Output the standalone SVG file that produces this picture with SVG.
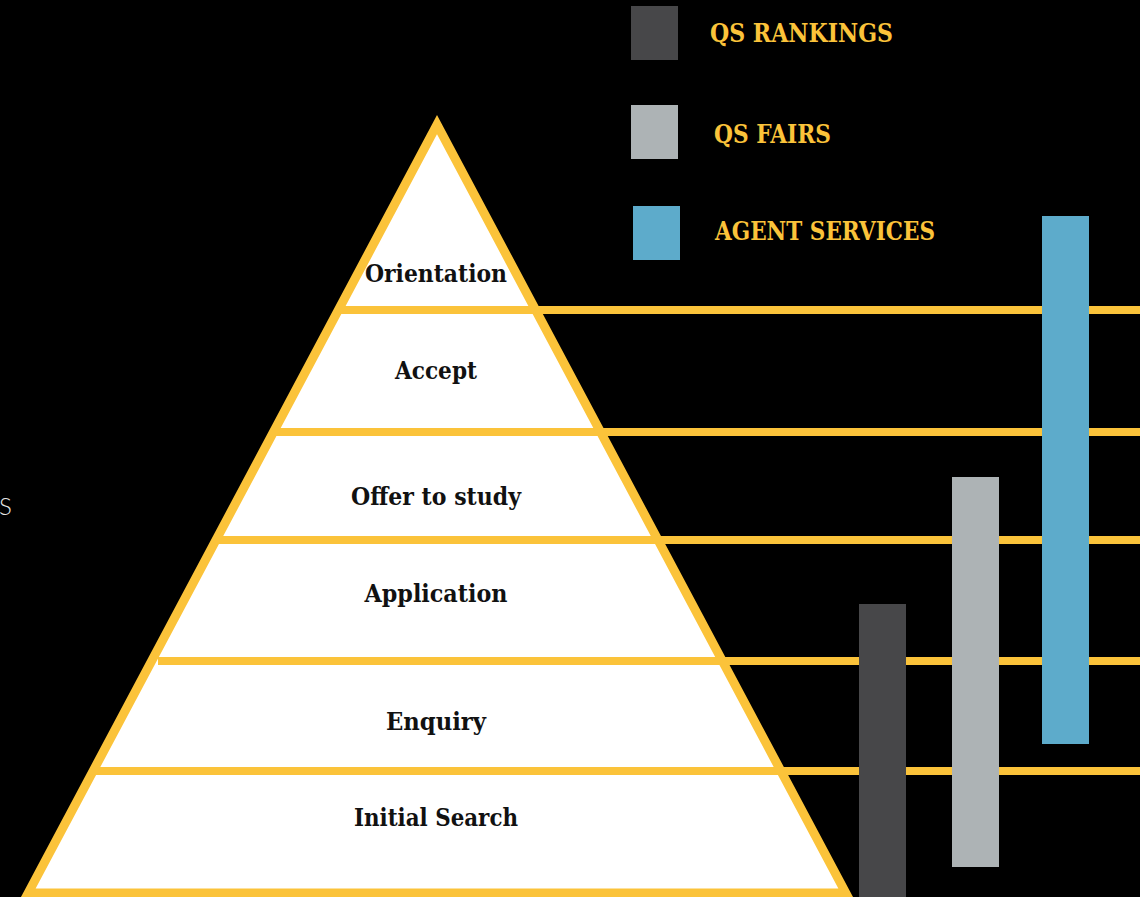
<svg xmlns="http://www.w3.org/2000/svg" width="1140" height="897" viewBox="0 0 1140 897">
  <style>
    .band { stroke: #fbc33a; stroke-width: 8; fill: none; }
    .stage { font-family: "DejaVu Serif", "Liberation Serif", serif; font-weight: bold; font-size: 23.5px; fill: #111; text-anchor: middle; }
    .key { font-family: "DejaVu Serif", "Liberation Serif", serif; font-weight: bold; font-size: 26px; fill: #fbc33a; }
  </style>
  <rect x="0" y="0" width="1140" height="897" fill="#000"/>

  <!-- clipped label at the left margin -->
  <text x="-1" y="515" font-family="Lato, 'Open Sans', sans-serif" font-weight="300" font-size="24" fill="#e6e6e6">S</text>

  <!-- pyramid body -->
  <g id="pyramid">
    <polygon points="437,124.6 28.2,893 845.8,893" fill="#fff"/>
  </g>

  <!-- stage separators running out to the right -->
  <g id="connectors">
    <line class="band" x1="336" y1="310" x2="1140" y2="310"/>
    <line class="band" x1="271" y1="432" x2="1140" y2="432"/>
    <line class="band" x1="213" y1="540" x2="1140" y2="540"/>
    <line class="band" x1="158" y1="661" x2="1140" y2="661"/>
    <line class="band" x1="91" y1="771" x2="1140" y2="771"/>
  </g>

  <g id="pyramid-outline">
    <polygon points="437,124.6 28.2,893 845.8,893" fill="none" stroke="#fbc33a" stroke-width="9" stroke-linejoin="miter"/>
  </g>

  <!-- stage labels -->
  <g id="stage-orientation"><text class="stage" x="436" y="282" textLength="142" lengthAdjust="spacingAndGlyphs">Orientation</text></g>
  <g id="stage-accept"><text class="stage" x="436" y="379" textLength="82" lengthAdjust="spacingAndGlyphs">Accept</text></g>
  <g id="stage-offer"><text class="stage" x="436" y="505" textLength="170" lengthAdjust="spacingAndGlyphs">Offer to study</text></g>
  <g id="stage-application"><text class="stage" x="436" y="602" textLength="143" lengthAdjust="spacingAndGlyphs">Application</text></g>
  <g id="stage-enquiry"><text class="stage" x="436" y="730" textLength="100" lengthAdjust="spacingAndGlyphs">Enquiry</text></g>
  <g id="stage-search"><text class="stage" x="436" y="826" textLength="164" lengthAdjust="spacingAndGlyphs">Initial Search</text></g>

  <!-- coverage bars -->
  <g id="bar-rankings"><rect x="859" y="604" width="47" height="293" fill="#474749"/></g>
  <g id="bar-fairs"><rect x="952" y="477" width="47" height="390" fill="#adb3b5"/></g>
  <g id="bar-agents"><rect x="1042" y="216" width="47" height="528" fill="#5dabcb"/></g>

  <!-- legend -->
  <g id="legend-rankings">
    <rect x="631" y="6" width="47" height="54" fill="#474749"/>
    <text class="key" x="710" y="42" textLength="183" lengthAdjust="spacingAndGlyphs">QS RANKINGS</text>
  </g>
  <g id="legend-fairs">
    <rect x="631" y="105" width="47" height="54" fill="#adb3b5"/>
    <text class="key" x="714" y="143" textLength="117" lengthAdjust="spacingAndGlyphs">QS FAIRS</text>
  </g>
  <g id="legend-agents">
    <rect x="633" y="206" width="47" height="54" fill="#5dabcb"/>
    <text class="key" x="715" y="240" textLength="220" lengthAdjust="spacingAndGlyphs">AGENT SERVICES</text>
  </g>
</svg>
